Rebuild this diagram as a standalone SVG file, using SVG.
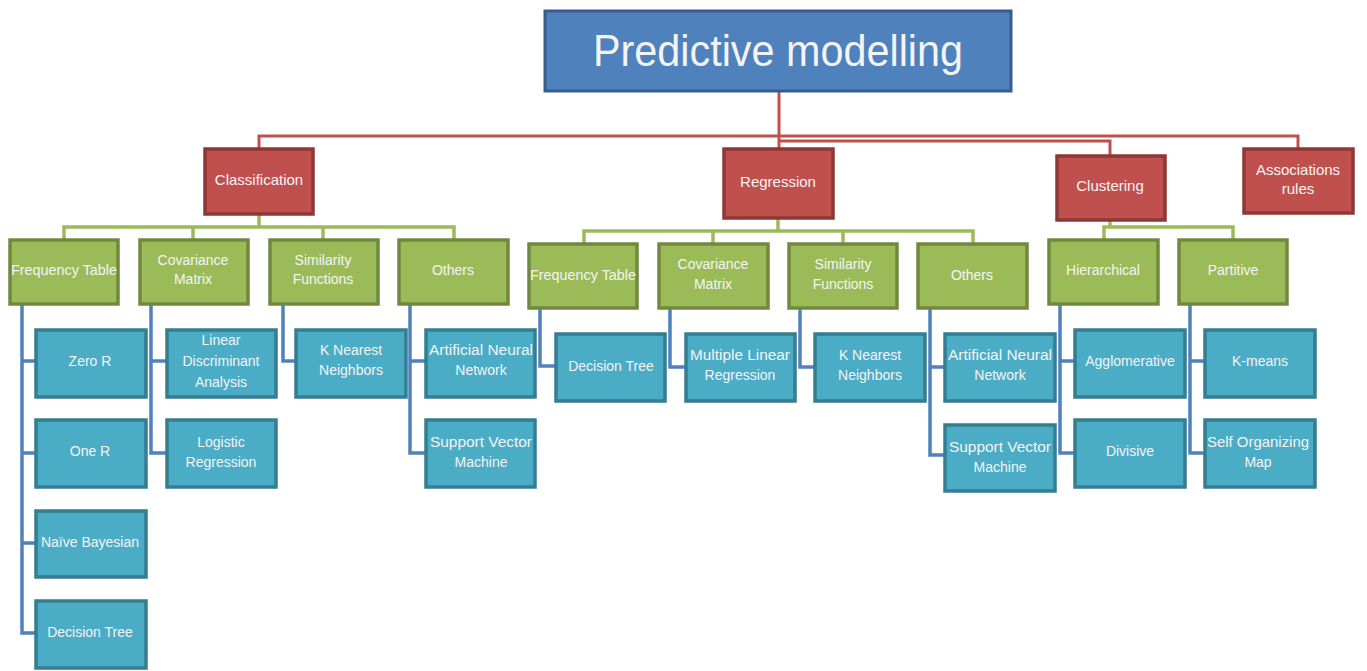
<svg xmlns="http://www.w3.org/2000/svg" width="1367" height="671" viewBox="0 0 1367 671">
<style>
.t{font-family:"Liberation Sans",Arial,sans-serif;fill:#F4F4F4;text-anchor:middle;font-size:14px}
.tt{font-size:44px}
.tr{font-size:15px}
.top{fill:#4F81BD;stroke:#385D8A;stroke-width:3}
.red{fill:#C0504D;stroke:#8C3836;stroke-width:3.5}
.grn{fill:#9BBB59;stroke:#71893F;stroke-width:3.5}
.blu{fill:#4BACC6;stroke:#357D91;stroke-width:3.5}
.cr{fill:none;stroke:#C0504D;stroke-width:3}
.cg{fill:none;stroke:#9BBB59;stroke-width:3.5}
.cb{fill:none;stroke:#4F81BD;stroke-width:3.5}
</style>
<rect width="1367" height="671" fill="#FFFFFF"/>
<g id="connectors">
<path class="cr" d="M779 91V148M779 136H259V148M779 141H1110V155M779 136H1298V148"/>
<path class="cg" d="M259 214V227M64 239V227H454V239M193 227V239M323 227V239"/>
<path class="cg" d="M778 219V231M584 244V231H973V244M713 231V244M843 231V244"/>
<path class="cg" d="M1110 220V227M1104 239V227H1233V239"/>
<path class="cb" d="M22 304V633H35M22 361H35M22 453H35M22 543H35"/>
<path class="cb" d="M151 304V453H167M151 361H167"/>
<path class="cb" d="M283 304V361H295"/>
<path class="cb" d="M410 304V453H426M410 361H426"/>
<path class="cb" d="M540 308V366H556"/>
<path class="cb" d="M670 308V367H686"/>
<path class="cb" d="M800 308V367H815"/>
<path class="cb" d="M930 308V455H945M930 367H945"/>
<path class="cb" d="M1060 304V453H1075M1060 361H1075"/>
<path class="cb" d="M1190 304V453H1205M1190 361H1205"/>
</g>
<g id="root"><rect class="top" x="545" y="11" width="466" height="80"/><text class="t tt" x="778" y="66" textLength="370" lengthAdjust="spacingAndGlyphs">Predictive modelling</text></g>
<g id="classification"><rect class="red" x="205" y="149" width="108" height="65"/><text class="t tr" x="259" y="185">Classification</text></g>
<g id="regression"><rect class="red" x="724" y="149" width="109" height="69"/><text class="t tr" x="778" y="187">Regression</text></g>
<g id="clustering"><rect class="red" x="1057" y="156" width="108" height="64"/><text class="t tr" x="1110" y="191">Clustering</text></g>
<g id="associations"><rect class="red" x="1244" y="149" width="109" height="64"/><text class="t tr" x="1298" y="175">Associations</text><text class="t tr" x="1298" y="194">rules</text></g>

<g id="c-freq"><rect class="grn" x="10" y="240" width="108" height="64"/><text class="t" x="64" y="275" textLength="106" lengthAdjust="spacingAndGlyphs">Frequency Table</text></g>
<g id="c-cov"><rect class="grn" x="140" y="240" width="108" height="64"/><text class="t" x="193" y="265">Covariance</text><text class="t" x="193" y="284">Matrix</text></g>
<g id="c-sim"><rect class="grn" x="270" y="240" width="108" height="64"/><text class="t" x="323" y="265">Similarity</text><text class="t" x="323" y="284">Functions</text></g>
<g id="c-oth"><rect class="grn" x="399" y="240" width="109" height="64"/><text class="t" x="453" y="275">Others</text></g>

<g id="r-freq"><rect class="grn" x="529" y="244" width="108" height="64"/><text class="t" x="583" y="280" textLength="106" lengthAdjust="spacingAndGlyphs">Frequency Table</text></g>
<g id="r-cov"><rect class="grn" x="659" y="244" width="109" height="64"/><text class="t" x="713" y="269">Covariance</text><text class="t" x="713" y="289">Matrix</text></g>
<g id="r-sim"><rect class="grn" x="789" y="244" width="108" height="64"/><text class="t" x="843" y="269">Similarity</text><text class="t" x="843" y="289">Functions</text></g>
<g id="r-oth"><rect class="grn" x="918" y="244" width="109" height="64"/><text class="t" x="972" y="280">Others</text></g>

<g id="hier"><rect class="grn" x="1049" y="240" width="109" height="64"/><text class="t" x="1103" y="275">Hierarchical</text></g>
<g id="part"><rect class="grn" x="1179" y="240" width="108" height="64"/><text class="t" x="1233" y="275">Partitive</text></g>

<g id="zeror"><rect class="blu" x="36" y="330" width="110" height="67"/><text class="t" x="90" y="366">Zero R</text></g>
<g id="oner"><rect class="blu" x="36" y="420" width="110" height="67"/><text class="t" x="90" y="456">One R</text></g>
<g id="naive"><rect class="blu" x="36" y="511" width="110" height="66"/><text class="t" x="90" y="547">Naïve Bayesian</text></g>
<g id="c-dt"><rect class="blu" x="36" y="601" width="110" height="67"/><text class="t" x="90" y="637">Decision Tree</text></g>
<g id="lda"><rect class="blu" x="167" y="330" width="109" height="67"/><text class="t" x="221" y="345">Linear</text><text class="t" x="221" y="366">Discriminant</text><text class="t" x="221" y="387">Analysis</text></g>
<g id="logreg"><rect class="blu" x="167" y="420" width="109" height="67"/><text class="t" x="221" y="447">Logistic</text><text class="t" x="221" y="467">Regression</text></g>
<g id="c-knn"><rect class="blu" x="296" y="330" width="110" height="67"/><text class="t" x="351" y="355">K Nearest</text><text class="t" x="351" y="375">Neighbors</text></g>
<g id="c-ann"><rect class="blu" x="426" y="330" width="109" height="67"/><text class="t" x="481" y="355" textLength="104" lengthAdjust="spacingAndGlyphs">Artificial Neural</text><text class="t" x="481" y="375">Network</text></g>
<g id="c-svm"><rect class="blu" x="426" y="420" width="109" height="67"/><text class="t" x="481" y="447" textLength="102" lengthAdjust="spacingAndGlyphs">Support Vector</text><text class="t" x="481" y="467">Machine</text></g>

<g id="r-dt"><rect class="blu" x="556" y="334" width="109" height="67"/><text class="t" x="611" y="371">Decision Tree</text></g>
<g id="mlr"><rect class="blu" x="686" y="334" width="109" height="67"/><text class="t" x="740" y="360" textLength="100" lengthAdjust="spacingAndGlyphs">Multiple Linear</text><text class="t" x="740" y="380">Regression</text></g>
<g id="r-knn"><rect class="blu" x="815" y="334" width="110" height="67"/><text class="t" x="870" y="360">K Nearest</text><text class="t" x="870" y="380">Neighbors</text></g>
<g id="r-ann"><rect class="blu" x="945" y="334" width="110" height="67"/><text class="t" x="1000" y="360" textLength="104" lengthAdjust="spacingAndGlyphs">Artificial  Neural</text><text class="t" x="1000" y="380">Network</text></g>
<g id="r-svm"><rect class="blu" x="945" y="425" width="110" height="66"/><text class="t" x="1000" y="452" textLength="102" lengthAdjust="spacingAndGlyphs">Support Vector</text><text class="t" x="1000" y="472">Machine</text></g>

<g id="aggl"><rect class="blu" x="1075" y="330" width="110" height="67"/><text class="t" x="1130" y="366">Agglomerative</text></g>
<g id="divisive"><rect class="blu" x="1075" y="420" width="110" height="67"/><text class="t" x="1130" y="456">Divisive</text></g>
<g id="kmeans"><rect class="blu" x="1205" y="330" width="110" height="67"/><text class="t" x="1260" y="366">K-means</text></g>
<g id="som"><rect class="blu" x="1205" y="420" width="110" height="67"/><text class="t" x="1258" y="447" textLength="102" lengthAdjust="spacingAndGlyphs">Self Organizing</text><text class="t" x="1258" y="467">Map</text></g>
</svg>
